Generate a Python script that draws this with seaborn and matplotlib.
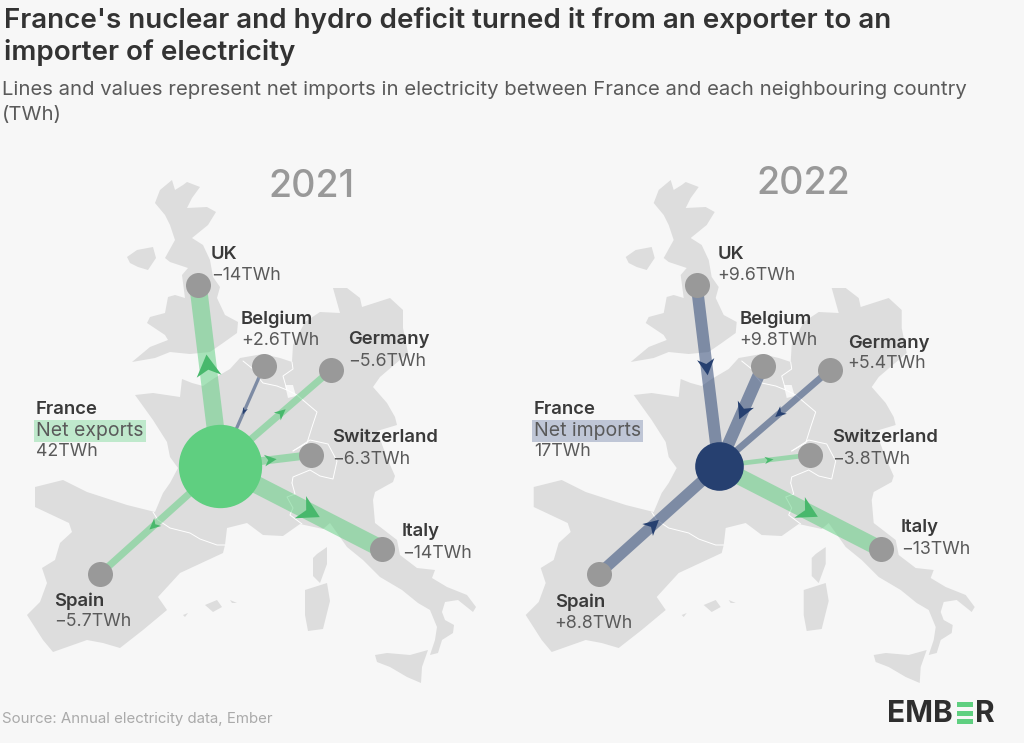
# France net electricity flows with neighbours, 2021 and 2022
import matplotlib
matplotlib.use("Agg")
import matplotlib.pyplot as plt
import numpy as np
import pandas as pd
import seaborn as sns
from matplotlib.patches import Polygon, Rectangle

# data
countries = ["UK", "Belgium", "Germany", "Switzerland", "Italy", "Spain"]
node_x = [198, 264, 331, 311, 382, 100]
node_y = [285, 366, 370, 455, 549, 574]
france_xy = (220, 466)
net_2021 = [-14, 2.6, -5.6, -6.3, -14, -5.7]
net_2022 = [9.6, 9.8, 5.4, -3.8, -13, 8.8]
france_2021 = 42
france_2022 = 17

# map outlines, same units as the node positions
great_britain = [(187,182),(200,187),(192,198),(187,208),(207,207),(216,212),(208,225),(192,238),(203,245),
                 (210,260),(213,277),(220,287),(217,298),(225,315),(238,322),(237,333),(223,343),(210,352),
                 (190,354),(170,352),(155,358),(132,362),(150,347),(168,340),(165,335),(147,323),(150,317),
                 (165,313),(168,297),(175,295),(185,298),(182,275),(188,268),(170,262),(165,258),(175,240),
                 (170,225),(165,215),(155,203),(160,190),(172,180),(175,190),(183,185)]
ireland = [(127,257),(137,250),(153,247),(156,258),(148,270),(138,267),(130,263)]
mainland = [(35,487),(63,480),(87,492),(127,505),(155,512),(163,493),(170,483),(178,468),(170,457),(167,442),
            (153,420),(135,395),(153,393),(180,397),(182,379),(192,383),(203,386),(213,379),(230,369),(240,358),
            (263,354),(280,358),(292,362),(293,345),(305,322),(320,312),(340,313),(333,288),(347,288),(360,298),
            (362,307),(390,298),(403,310),(403,328),(408,353),(380,377),(373,387),(387,403),(395,417),(397,425),
            (377,431),(387,458),(395,476),(393,482),(375,492),(373,500),(375,523),(397,540),(400,555),(417,568),
            (435,570),(432,578),(447,587),(467,595),(476,607),(473,612),(458,600),(445,602),(442,612),(445,620),
            (454,625),(453,633),(442,640),(438,653),(430,655),(435,640),(437,627),(430,610),(418,603),(402,590),
            (380,577),(363,560),(347,547),(330,523),(323,529),(300,524),(283,536),(263,535),(247,523),(227,528),
            (225,545),(223,553),(180,573),(158,597),(167,610),(143,630),(120,648),(103,643),(87,640),(53,652),
            (43,640),(27,615),(40,602),(47,583),(42,568),(55,560),(60,543),(72,532),(69,523),(35,507)]
sicily = [(375,655),(387,653),(410,655),(428,650),(422,667),(421,683),(407,677),(390,667),(377,662)]
corsica = [(317,554),(327,547),(327,564),(320,583),(313,576),(313,558)]
sardinia = [(305,590),(327,583),(330,601),(323,629),(308,631),(305,615)]
mallorca = [(205,605),(217,600),(222,607),(213,612)]
menorca = [(230,600),(237,603),(232,603)]
ibiza = [(183,615),(188,613),(185,617)]
land = [great_britain, ireland, mainland, sicily, corsica, sardinia, mallorca, menorca, ibiza]
luxembourg = [(285,385),(293,385),(296,396),(288,398)]

borders = [[(153,512),(158,520),(170,528),(190,533),(200,539),(217,545),(225,545)],
           [(243,361),(253,369),(257,376),(263,383),(277,386),(287,390),(283,376),(293,369),(292,362)],
           [(287,390),(297,395),(317,412),(312,427),(307,443),(293,451)],
           [(293,451),(310,440),(328,444),(337,461),(333,479),(320,476),(310,470),(293,477),(292,483)],
           [(292,483),(295,494),(287,497),(293,508),(290,515),(302,524)]]

# styles
BG = "#f7f7f7"
GREEN = "#5fcf80"
GREEN_DARK = "#48b86c"
NAVY = "#264070"
LAND = "#dddddd"
GREY_NODE = "#999999"
DARK = "#3a3a3a"
MID = "#5a5a5a"
NAME_SIZE = 13.3
VALUE_SIZE = 12.8

sns.set_theme(style="white", rc={"figure.facecolor": BG})
plt.rcParams["font.family"] = ["Inter", "DejaVu Sans"]

fig = plt.figure(figsize=(10.24, 7.43), dpi=100, facecolor=BG)


def panel_axes(left_px):
    ax = fig.add_axes([left_px / 1024, 43 / 743, 512 / 1024, 560 / 743])
    ax.patch.set_alpha(0)
    return ax


def fmt(v):
    return f"{v:+g}TWh".replace("-", "\u2212")


def draw_panel(ax, net, france_val, france_d, year, year_x, year_y, label_xy, fr_label_x, fr_word, fr_bg):
    fr_col = GREEN if france_val == france_2021 else NAVY
    for pts in land:
        ax.add_patch(Polygon(pts, closed=True, fc=LAND, ec="none", zorder=1))
    ax.add_patch(Polygon(luxembourg, closed=True, fc=BG, ec="none", zorder=1.2))
    for pts in borders:
        xs, ys = zip(*pts)
        ax.plot(xs, ys, color="white", lw=0.7, zorder=1.5)

    for name, x, y, v in zip(countries, node_x, node_y, net):
        col = NAVY if v > 0 else GREEN
        link = pd.DataFrame({"x": [france_xy[0], x], "y": [france_xy[1], y]})
        sns.lineplot(data=link, x="x", y="y", sort=False, estimator=None, color=col,
                     alpha=0.52, lw=abs(v) * 1.25 * 0.72, solid_capstyle="butt", zorder=2,
                     legend=False, ax=ax)
        # arrow head half way along the link, pointing the way the power goes
        start = np.array(france_xy, dtype=float)
        end = np.array([x, y], dtype=float)
        d = (end - start) / np.hypot(*(end - start))
        mid = start + (end - start) * 0.55
        if v > 0:
            d = -d
        n = np.array([-d[1], d[0]])
        ln = 4 + abs(v) * 1.27
        w = abs(v) * 1.73 + 0.7
        head = [mid + d * ln * 0.55, mid - d * ln * 0.45 + n * w / 2,
                mid - d * ln * 0.15, mid - d * ln * 0.45 - n * w / 2]
        ax.add_patch(Polygon(head, closed=True, fc=NAVY if v > 0 else GREEN_DARK, ec="none", zorder=3))

    sns.scatterplot(x=node_x, y=node_y, s=324, color=GREY_NODE, linewidth=0, zorder=4, legend=False, ax=ax)
    sns.scatterplot(x=[france_xy[0]], y=[france_xy[1]], s=france_d ** 2, color=fr_col, linewidth=0,
                    zorder=5, legend=False, ax=ax)
    ax.set_xlim(0, 512)
    ax.set_ylim(700, 140)
    ax.axis("off")

    ax.text(year_x, year_y, str(year), color="#999999", fontsize=27, fontweight="medium",
            ha="center", va="center", zorder=6)
    for name, (lx, ly), v in zip(countries, label_xy, net):
        ax.text(lx, ly + 2, name, color=DARK, fontsize=NAME_SIZE, fontweight="semibold", va="center", zorder=6)
        ax.text(lx, ly + 23, fmt(v), color=MID, fontsize=VALUE_SIZE, va="center", zorder=6)
    ax.text(fr_label_x, 410, "France", color=DARK, fontsize=NAME_SIZE, fontweight="semibold", va="center", zorder=6)
    ax.text(fr_label_x, 431, fr_word, color=MID, fontsize=14, va="center", zorder=6,
            bbox=dict(fc=fr_bg, ec="none", pad=1.5))
    ax.text(fr_label_x, 452, f"{france_val}TWh", color=MID, fontsize=VALUE_SIZE, va="center", zorder=6)


ax_left = panel_axes(0)
ax_right = panel_axes(498.7)

draw_panel(ax_left, net_2021, france_2021, 60, 2021, 311, 187,
           [(211, 252.5), (241, 317.5), (348, 338), (332, 436), (402, 530), (54, 599)],
           36, "Net exports", "#bfe9cc")
draw_panel(ax_right, net_2022, france_2022, 35, 2022, 304.3, 183.6,
           [(219, 252.5), (241, 317.5), (349, 341), (333, 436), (402, 526), (56, 600)],
           35, "Net imports", "#bfc6d6")

# header, source and logo, in figure pixels
top = fig.add_axes([0, 0, 1, 1])
top.set_xlim(0, 1024)
top.set_ylim(743, 0)
top.patch.set_alpha(0)
top.axis("off")
top.text(4, 21, "France's nuclear and hydro deficit turned it from an exporter to an",
         fontsize=20, fontweight="semibold", color="#333333", va="center")
top.text(4, 53, "importer of electricity", fontsize=20, fontweight="semibold", color="#333333", va="center")
top.text(2, 90, "Lines and values represent net imports in electricity between France and each neighbouring country",
         fontsize=14.6, color=MID, va="center")
top.text(2, 115, "(TWh)", fontsize=14.6, color=MID, va="center")
top.text(2, 719, "Source: Annual electricity data, Ember", fontsize=10.8, color="#aaaaaa", va="center")

top.text(887, 713.5, "EMB", fontsize=21.5, fontweight="bold", color="#2e2e2e", va="center")
for by in (702, 710.5, 719):
    top.add_patch(Rectangle((957, by), 16, 5, fc=GREEN, ec="none"))
top.text(975, 713.5, "R", fontsize=21.5, fontweight="bold", color="#2e2e2e", va="center")

fig.savefig("out.png", dpi=100, facecolor=BG)
